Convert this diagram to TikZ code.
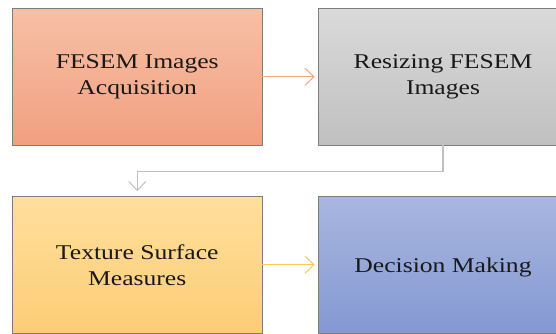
\documentclass[tikz,border=0pt]{standalone}
\usepackage{fontspec}
\setmainfont{Liberation Serif}[FakeStretch=1.22]
\usepackage{xcolor}
\definecolor{textcolor}{RGB}{25,25,25}
\definecolor{edgecolor}{RGB}{125,125,125}
\definecolor{acqtop}{RGB}{247,192,166}
\definecolor{acqbot}{RGB}{241,160,128}
\definecolor{restop}{RGB}{218,218,218}
\definecolor{resbot}{RGB}{192,192,192}
\definecolor{textop}{RGB}{255,223,156}
\definecolor{texbot}{RGB}{252,205,118}
\definecolor{dectop}{RGB}{168,182,224}
\definecolor{decbot}{RGB}{132,153,210}
\definecolor{orangelink}{RGB}{241,168,128}
\definecolor{graylink}{RGB}{192,192,192}
\definecolor{yellowlink}{RGB}{244,204,84}
\usepackage{tikz}
\usetikzlibrary{arrows.meta}

\begin{document}
\begin{tikzpicture}[x=1pt, y=-1pt,
  every node/.style={color=textcolor, font=\fontsize{21}{26}\selectfont},
  stepbox/.style={draw=edgecolor, line width=0.6pt, align=center, inner sep=0pt,
    minimum height=136.5pt, execute at begin node={\rule{0pt}{20pt}}},
  link/.style={line width=1.2pt, shorten >=3pt,
    -{Straight Barb[length=9pt, width=17pt, line width=1pt]}}]
  \useasboundingbox (0,0) rectangle (556,333);
  \clip (0,0) rectangle (556,333);

  \node[stepbox, top color=acqtop, bottom color=acqbot, minimum width=249.5pt] (acq) at (137.25,76.75) {FESEM Images\\Acquisition};
  \node[stepbox, top color=restop, bottom color=resbot, minimum width=250pt] (resize) at (443,76.75) {Resizing FESEM\\Images};
  \node[stepbox, top color=textop, bottom color=texbot, minimum width=249.5pt] (texture) at (137.25,264.75) {Texture Surface\\Measures};
  \node[stepbox, top color=dectop, bottom color=decbot, minimum width=250pt] (decision) at (443,264.75) {Decision Making};

  \coordinate (bend) at (0,171.5);

  \draw[link, orangelink] (acq.east) -- (resize.west);
  \draw[link, graylink, shorten >=5pt] (resize.south) -- (resize.south |- bend) -- (texture.north |- bend) -- (texture.north);
  \draw[link, yellowlink] (texture.east) -- (decision.west);
\end{tikzpicture}
\end{document}
